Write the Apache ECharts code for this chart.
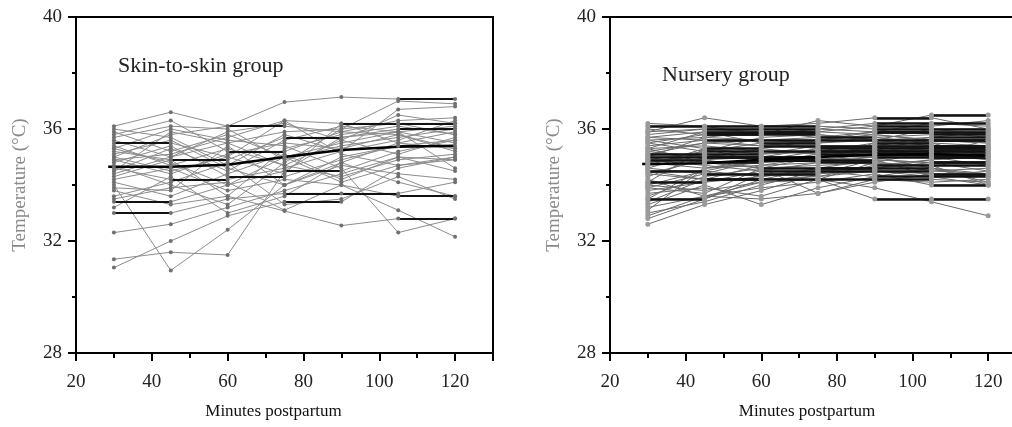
<!DOCTYPE html>
<html>
<head>
<meta charset="utf-8">
<script src="https://cdn.jsdelivr.net/npm/echarts@6/dist/echarts.min.js"></script>
<style>
  html, body { margin: 0; padding: 0; background: #fff; }
  #chart { width: 1012px; height: 427px; }
</style>
</head>
<body>
<div id="chart"></div>
<script>
// measurement times (minutes postpartum)
let times = [30, 45, 60, 75, 90, 105, 120];

// skin-to-skin group, one row per infant
let skinData = [
    [36.1, 36.6, 36.1, 36.1, 35.9, 36.3, 36.4],
    [35.5, 35.5, 35.0, 36.3, 36.2, 36.2, 36.2],
    [33.4, 33.4, 34.0, 34.5, 34.5, 35.2, 35.6],
    [33.0, 33.0, 33.5, 33.7, 33.7, 33.7, 34.1],
    [34.0, 30.95, 32.4, 34.0, 34.8, 35.5, 35.9],
    [31.05, 32.0, 32.9, 33.4, 33.4, 34.6, 35.0],
    [31.35, 31.6, 31.5, 34.5, 35.7, 35.9, 36.1],
    [32.3, 32.6, 33.2, 33.8, 34.4, 35.0, 34.9],
    [35.2, 34.9, 34.9, 35.7, 35.7, 36.0, 36.0],
    [34.6, 34.2, 34.2, 34.6, 35.2, 35.6, 36.3],
    [35.8, 36.3, 35.2, 35.2, 35.9, 35.8, 35.2],
    [34.8, 35.4, 34.3, 34.3, 34.9, 35.4, 35.6],
    [35.0, 35.8, 36.1, 36.96, 37.14, 37.07, 37.07],
    [34.4, 35.0, 35.5, 35.9, 36.0, 37.0, 36.9],
    [35.3, 36.0, 35.6, 35.4, 34.6, 32.3, 32.8],
    [33.8, 33.3, 33.6, 33.07, 32.55, 32.8, 32.8],
    [34.2, 34.6, 33.8, 34.2, 34.0, 33.1, 32.15],
    [35.9, 35.2, 35.8, 35.0, 35.5, 35.9, 35.5],
    [34.9, 34.4, 35.1, 35.5, 35.3, 35.8, 35.3],
    [35.1, 35.6, 34.6, 34.0, 35.0, 35.4, 35.4],
    [33.6, 34.1, 34.8, 33.3, 33.5, 34.3, 33.5],
    [34.7, 34.0, 33.3, 34.8, 36.0, 36.2, 35.8],
    [35.6, 35.0, 35.9, 36.2, 35.6, 36.5, 36.2],
    [34.1, 33.6, 34.4, 35.1, 34.2, 35.0, 34.5],
    [33.2, 34.3, 33.0, 33.6, 34.8, 34.1, 33.6],
    [35.4, 34.7, 35.3, 34.7, 34.3, 34.9, 35.1],
    [34.5, 35.3, 34.5, 35.6, 36.1, 35.9, 34.6],
    [35.7, 36.1, 36.0, 34.9, 35.4, 35.7, 36.0],
    [33.9, 33.8, 35.4, 34.0, 34.7, 34.4, 34.2],
    [34.3, 34.9, 33.6, 35.3, 35.8, 36.1, 35.8],
    [35.0, 34.5, 35.0, 34.4, 36.2, 35.5, 35.3],
    [36.0, 35.7, 34.7, 35.8, 35.2, 36.7, 36.8],
    [33.5, 33.9, 34.1, 33.1, 34.0, 33.6, 33.6],
    [34.9, 35.1, 35.7, 36.3, 35.1, 34.7, 35.0],
    [35.3, 34.8, 34.0, 35.0, 34.1, 34.7, 34.9],
    [34.5, 35.9, 35.5, 34.7, 35.6, 35.1, 35.7]
];

// nursery group, one row per infant
let nurseryData = [
    [36.2, 36.1, 36.1, 36.1, 36.0, 36.0, 36.0],
    [35.9, 36.4, 36.1, 36.2, 36.4, 36.4, 36.0],
    [35.6, 35.7, 35.9, 35.9, 36.1, 36.5, 36.5],
    [35.0, 35.7, 35.6, 35.6, 35.9, 35.9, 35.9],
    [34.8, 35.1, 35.1, 35.4, 35.4, 35.4, 35.2],
    [34.7, 34.8, 34.8, 35.0, 35.3, 35.3, 35.3],
    [34.9, 34.7, 34.5, 34.5, 34.6, 34.6, 34.3],
    [33.5, 33.5, 34.2, 34.3, 34.7, 34.7, 34.7],
    [35.3, 35.4, 35.2, 35.2, 35.5, 35.5, 35.0],
    [34.5, 34.2, 34.2, 34.6, 34.6, 34.9, 35.1],
    [35.7, 35.9, 35.5, 35.5, 35.7, 35.8, 35.8],
    [34.3, 35.0, 35.0, 35.3, 35.3, 35.0, 35.0],
    [32.6, 33.3, 33.8, 34.4, 34.5, 34.3, 34.5],
    [32.8, 33.5, 34.4, 34.4, 34.9, 34.8, 34.8],
    [33.1, 34.6, 34.8, 34.9, 35.1, 35.1, 35.6],
    [33.3, 34.0, 33.3, 33.9, 34.3, 34.3, 34.0],
    [33.9, 33.7, 34.6, 33.7, 34.2, 34.1, 34.2],
    [34.1, 35.3, 35.3, 35.1, 35.0, 34.6, 34.4],
    [35.1, 35.1, 34.9, 34.9, 35.0, 35.1, 35.1],
    [35.4, 35.6, 35.6, 35.7, 35.7, 35.5, 35.4],
    [36.0, 35.8, 35.8, 36.0, 35.9, 36.2, 36.2],
    [34.6, 34.4, 34.4, 34.3, 34.5, 34.4, 34.4],
    [34.0, 33.8, 34.1, 34.2, 33.5, 33.5, 33.5],
    [33.7, 33.9, 33.6, 34.2, 33.9, 33.4, 32.9],
    [35.2, 35.5, 35.4, 35.4, 35.2, 35.2, 34.9],
    [34.4, 34.9, 35.0, 35.0, 35.2, 35.3, 35.3],
    [35.8, 36.0, 35.9, 35.9, 35.8, 35.6, 35.6],
    [33.6, 34.3, 34.6, 34.7, 34.8, 34.5, 34.6],
    [34.2, 33.6, 33.9, 34.1, 34.4, 34.0, 34.0],
    [35.5, 35.2, 35.7, 35.8, 35.6, 35.7, 35.7],
    [34.8, 34.6, 34.7, 34.8, 34.8, 35.2, 35.2],
    [33.0, 33.4, 34.0, 34.5, 34.3, 34.6, 34.1],
    [35.0, 35.0, 35.3, 35.6, 35.8, 35.6, 35.5],
    [34.5, 34.5, 34.3, 34.6, 34.9, 34.8, 34.8],
    [36.1, 36.1, 35.8, 36.3, 36.1, 36.1, 36.3],
    [35.6, 35.3, 35.1, 35.2, 35.2, 35.4, 35.4],
    [33.8, 34.1, 34.5, 34.8, 35.0, 35.0, 34.7],
    [34.9, 35.2, 35.5, 35.3, 35.4, 35.7, 35.9],
    [35.3, 34.8, 34.6, 35.0, 34.7, 34.9, 35.0],
    [34.0, 34.5, 34.9, 34.9, 35.5, 35.2, 35.3],
    [32.9, 33.6, 33.5, 33.7, 34.1, 34.4, 34.3],
    [35.1, 35.5, 35.6, 35.5, 35.6, 36.0, 35.8],
    [34.7, 35.3, 34.8, 35.1, 35.3, 35.6, 35.6],
    [33.4, 34.2, 34.7, 35.0, 35.4, 35.3, 35.1],
    [35.9, 36.0, 36.0, 36.0, 36.2, 36.2, 36.1],
    [35.2, 35.0, 35.0, 35.0, 35.1, 35.1, 34.9],
    [34.4, 34.2, 34.2, 34.2, 34.2, 34.2, 34.1],
    [35.5, 35.8, 35.8, 35.8, 35.6, 35.4, 35.4],
    [34.9, 34.9, 34.6, 34.6, 34.6, 34.8, 34.5],
    [33.5, 34.6, 34.9, 35.2, 35.2, 35.2, 35.2],
    [33.9, 34.4, 34.9, 34.9, 34.9, 34.3, 34.3],
    [35.7, 35.6, 35.4, 35.6, 35.6, 35.6, 35.5],
    [34.6, 35.2, 35.2, 35.1, 35.1, 35.0, 35.0],
    [34.1, 34.1, 34.3, 34.5, 34.5, 34.5, 34.4],
    [35.3, 35.9, 35.9, 35.7, 35.9, 35.9, 35.7],
    [33.2, 33.6, 34.1, 34.2, 34.8, 34.7, 34.0]
];

// group mean curves (thick black)
let meanTimes = [28.5, 45, 60, 75, 90, 105, 120];
let skinMean = [34.65, 34.65, 34.72, 35.0, 35.25, 35.37, 35.4];
let nurseryMean = [34.75, 34.78, 34.9, 35.0, 35.08, 35.1, 35.05];

let xTicks = [20, 40, 60, 80, 100, 120];
let yTicks = [28, 32, 36, 40];

let serif = '"Liberation Serif", "DejaVu Serif", serif';

function buildSeries(rows, mean, gridIdx, look) {
    let list = [];
    let points = [];
    rows.forEach(function (row) {
        let pts = row.map(function (v, i) { return [times[i], v]; });
        points = points.concat(pts);
        list.push({
            type: 'line',
            xAxisIndex: gridIdx,
            yAxisIndex: gridIdx,
            data: pts,
            showSymbol: false,
            lineStyle: {color: look.line, width: 1},
            silent: true,
            z: 2
        });
    });
    // flat segments look crisp black in the scan
    let flat = [];
    rows.forEach(function (row) {
        for (let i = 0; i < row.length - 1; i++) {
            if (row[i] === row[i + 1]) {
                flat.push({coords: [[times[i], row[i]], [times[i + 1], row[i + 1]]]});
            }
        }
    });
    list.push({
        type: 'lines',
        coordinateSystem: 'cartesian2d',
        xAxisIndex: gridIdx,
        yAxisIndex: gridIdx,
        data: flat,
        lineStyle: {color: '#111', width: look.flatWidth, opacity: 1},
        silent: true,
        z: 3
    });
    list.push({
        type: 'line',
        xAxisIndex: gridIdx,
        yAxisIndex: gridIdx,
        data: mean.map(function (v, i) { return [meanTimes[i], v]; }),
        showSymbol: false,
        lineStyle: {color: '#000', width: 2.5},
        silent: true,
        z: 4
    });
    list.push({
        type: 'scatter',
        xAxisIndex: gridIdx,
        yAxisIndex: gridIdx,
        data: points,
        symbol: 'circle',
        symbolSize: look.dot,
        itemStyle: {color: look.dotColor, opacity: 1},
        silent: true,
        z: 5
    });
    return list;
}

function xAxisOf(gridIdx) {
    return {
        type: 'value',
        gridIndex: gridIdx,
        min: 20,
        max: 130,
        interval: 20,
        name: 'Minutes postpartum',
        nameLocation: 'middle',
        nameGap: 50,
        nameTextStyle: {fontFamily: serif, fontSize: 17, color: '#111', padding: [0, 22, 0, 0]},
        axisLine: {lineStyle: {color: '#000', width: 2}},
        axisTick: {length: 8, lineStyle: {color: '#000', width: 2}},
        minorTick: {show: true, splitNumber: 2, length: 5, lineStyle: {color: '#000', width: 2}},
        splitLine: {show: false},
        axisLabel: {
            margin: 20,
            fontFamily: serif,
            fontSize: 19,
            color: '#222',
            formatter: function (v) { return xTicks.indexOf(v) >= 0 ? String(v) : ''; }
        }
    };
}

function yAxisOf(gridIdx) {
    return {
        type: 'value',
        gridIndex: gridIdx,
        min: 28,
        max: 40,
        interval: 4,
        name: 'Temperature (\u00b0C)',
        nameLocation: 'middle',
        nameRotate: 90,
        nameGap: 46,
        nameTextStyle: {fontFamily: serif, fontSize: 19, color: '#8a8a8a'},
        axisLine: {lineStyle: {color: '#000', width: 2}},
        axisTick: {length: 8, lineStyle: {color: '#000', width: 2}},
        minorTick: {show: true, splitNumber: 2, length: 4, lineStyle: {color: '#000', width: 2}},
        splitLine: {show: false},
        axisLabel: {
            margin: 14,
            fontFamily: serif,
            fontSize: 19,
            color: '#222',
            formatter: function (v) { return yTicks.indexOf(v) >= 0 ? String(v) : ''; }
        }
    };
}

let myChart = echarts.init(document.getElementById('chart'));
let option = {
    backgroundColor: '#fff',
    animation: false,
    title: [
        {text: 'Skin-to-skin group', left: 113, top: 50, textStyle: {fontFamily: serif, fontSize: 22, fontWeight: 'normal', color: '#222'}},
        {text: 'Nursery group', left: 657, top: 59, textStyle: {fontFamily: serif, fontSize: 22, fontWeight: 'normal', color: '#222'}}
    ],
    grid: [
        {left: 76, top: 17, width: 417, height: 336, show: true, borderColor: '#000', borderWidth: 2, outerBoundsMode: 'none'},
        {left: 610, top: 17, width: 416, height: 336, show: true, borderColor: '#000', borderWidth: 2, outerBoundsMode: 'none'}
    ],
    xAxis: [xAxisOf(0), xAxisOf(1)],
    yAxis: [yAxisOf(0), yAxisOf(1)],
    series: buildSeries(skinData, skinMean, 0, {line: '#8c8c8c', flatWidth: 2, dot: 4, dotColor: '#707070'})
        .concat(buildSeries(nurseryData, nurseryMean, 1, {line: '#6a6a6a', flatWidth: 2.5, dot: 5, dotColor: '#9a9a9a'}))
};
myChart.setOption(option);
</script>
</body>
</html>
